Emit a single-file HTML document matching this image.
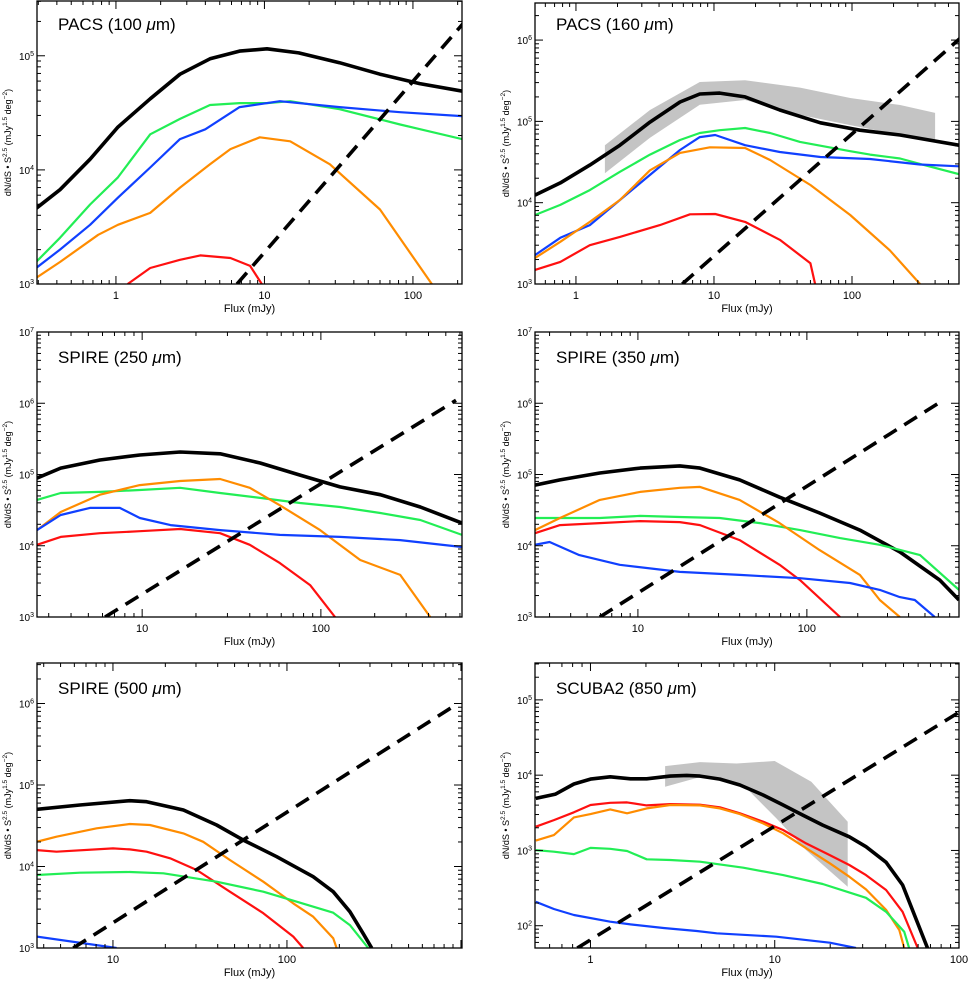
<!DOCTYPE html>
<html><head><meta charset="utf-8"><style>
html,body{margin:0;padding:0;background:#fff;}
svg{display:block;font-family:"Liberation Sans",sans-serif;}
</style></head><body>
<svg id="fig" width="970" height="982" viewBox="0 0 970 982" xmlns="http://www.w3.org/2000/svg"></svg>
<script>
// ---- Panel 1: PACS 100
const p1_black_x=[0.29,0.42,0.67,1.03,1.7,2.7,4.3,6.8,10.4,17,32,60,111,214];
const p1_black_y=[4.6e3,6.7e3,1.24e4,2.37e4,4.2e4,6.9e4,9.4e4,1.1e5,1.15e5,1.06e5,8.7e4,6.9e4,5.7e4,4.9e4];
const p1_green_x=[0.29,0.42,0.67,1.03,1.7,2.7,4.3,6.8,10.4,14.9,32,82,214];
const p1_green_y=[1.56e3,2.54e3,4.97e3,8.6e3,2.05e4,2.8e4,3.7e4,3.85e4,3.85e4,4.0e4,3.4e4,2.5e4,1.86e4];
const p1_blue_x=[0.29,0.42,0.67,1.03,1.7,2.7,4.0,6.8,12.7,32,82,214];
const p1_blue_y=[1.38e3,2.0e3,3.3e3,5.7e3,1.05e4,1.86e4,2.27e4,3.55e4,4.0e4,3.55e4,3.2e4,2.96e4];
const p1_orange_x=[0.29,0.42,0.76,1.03,1.7,2.7,4.3,5.9,9.3,14.9,27.6,60,134];
const p1_orange_y=[1.13e3,1.56e3,2.7e3,3.3e3,4.2e3,7.0e3,1.12e4,1.52e4,1.93e4,1.78e4,1.12e4,4.5e3,1.0e3];
const p1_red_x=[1.2,1.7,2.7,3.7,5.9,8,9.6];
const p1_red_y=[1.0e3,1.38e3,1.63e3,1.78e3,1.69e3,1.44e3,1.0e3];
const p1_dash_x=[6.53,300];
const p1_dash_y=[1.0e3,3.1e5];
// ---- Panel 2: PACS 160
const p2_band_x=[1.62,3.44,7.9,16.8,42,97,223,400];
const p2_band_hi=[5.1e4,1.38e5,3.05e5,3.2e5,2.6e5,1.94e5,1.59e5,1.27e5];
const p2_band_lo=[2.3e4,6.3e4,1.6e5,1.83e5,1.2e5,9.0e4,6.8e4,5.9e4];
const p2_black_x=[0.505,0.77,1.26,2.08,3.44,5.67,7.9,11,16.8,30,59,114,223,596];
const p2_black_y=[1.24e4,1.75e4,2.9e4,5.1e4,9.8e4,1.73e5,2.17e5,2.23e5,2.0e5,1.38e5,9.6e4,7.8e4,6.8e4,5.1e4];
const p2_green_x=[0.505,0.77,1.26,2.08,3.44,5.67,7.9,11,16.8,25.5,42,97,135,223,311,596];
const p2_green_y=[7.06e3,9.4e3,1.43e4,2.4e4,3.9e4,5.9e4,7.2e4,7.8e4,8.3e4,7.2e4,5.6e4,4.3e4,3.9e4,3.5e4,3.0e4,2.24e4];
const p2_blue_x=[0.505,0.77,1.26,2.08,3.44,5.67,7.9,10.2,16.8,30,59,135,311,596];
const p2_blue_y=[2.27e3,3.7e3,5.3e3,1.08e4,2.2e4,4.45e4,6.4e4,6.8e4,5.1e4,4.2e4,3.65e4,3.45e4,2.95e4,2.8e4];
const p2_orange_x=[0.505,0.77,1.26,2.08,3.44,5.67,9.35,16.8,25.5,50,97,188,311];
const p2_orange_y=[2.09e3,3.3e3,5.8e3,1.08e4,2.5e4,4.1e4,4.8e4,4.7e4,3.35e4,1.65e4,7.06e3,2.6e3,1.0e3];
const p2_red_x=[0.505,0.77,1.26,2.08,4.06,6.7,10.2,16.8,30,50,54];
const p2_red_y=[1.49e3,1.87e3,3.0e3,3.8e3,5.3e3,7.2e3,7.26e3,5.8e3,3.5e3,1.8e3,1.0e3];
const p2_dash_x=[5.9,700];
const p2_dash_y=[1.0e3,1.3e6];
// ---- Panel 3: SPIRE 250
const p3_black_x=[2.58,3.5,5.8,9.7,16.3,27.3,45.7,76.5,128,215,360,616];
const p3_black_y=[8.9e4,1.23e5,1.6e5,1.88e5,2.07e5,1.95e5,1.45e5,9.8e4,6.7e4,5.2e4,3.5e4,2.08e4];
const p3_green_x=[2.58,3.5,5.8,9.7,16.3,27.3,45.7,76.5,128,215,360,616];
const p3_green_y=[4.4e4,5.5e4,5.7e4,6.05e4,6.5e4,5.5e4,4.7e4,3.98e4,3.5e4,2.88e4,2.3e4,1.42e4];
const p3_orange_x=[2.58,3.5,5.8,9.7,16.3,27.3,40,59,99,166,278,409];
const p3_orange_y=[1.66e4,2.98e4,5.2e4,7.1e4,8.1e4,8.65e4,6.5e4,3.7e4,1.66e4,6.3e3,3.9e3,1.0e3];
const p3_blue_x=[2.58,3.5,5.1,7.5,9.7,14.4,27.3,59,128,278,616];
const p3_blue_y=[1.66e4,2.7e4,3.4e4,3.4e4,2.45e4,1.95e4,1.66e4,1.42e4,1.33e4,1.2e4,9.6e3];
const p3_red_x=[2.58,3.5,5.8,9.7,16.3,27.3,40,59,87,120];
const p3_red_y=[1.03e4,1.33e4,1.5e4,1.6e4,1.72e4,1.5e4,1.03e4,5.7e3,2.8e3,1.0e3];
const p3_dash_x=[6.2,570];
const p3_dash_y=[1.0e3,1.1e6];
// ---- Panel 4: SPIRE 350
const p4_black_x=[2.46,3.46,5.95,10.3,17.7,23.3,40,69,119,206,355,612,795];
const p4_black_y=[7.1e4,8.4e4,1.05e5,1.23e5,1.32e5,1.23e5,8.4e4,4.8e4,2.88e4,1.66e4,8.2e3,3.3e3,1.73e3];
const p4_green_x=[2.46,3.46,5.95,10.3,17.7,30.5,52.7,91,157,270,467,795];
const p4_green_y=[2.45e4,2.45e4,2.45e4,2.62e4,2.53e4,2.45e4,2.08e4,1.66e4,1.28e4,1.03e4,7.4e3,2.4e3];
const p4_orange_x=[2.46,3.46,5.95,10.3,17.7,23.3,40,69,119,206,270,355];
const p4_orange_y=[1.66e4,2.45e4,4.4e4,5.7e4,6.5e4,6.7e4,4.4e4,2.08e4,8.7e3,3.9e3,1.73e3,1.0e3];
const p4_red_x=[2.46,3.46,5.95,10.3,17.7,23.3,40,69,91,157];
const p4_red_y=[1.5e4,1.95e4,2.08e4,2.22e4,2.15e4,1.95e4,1.2e4,5.4e3,3.3e3,1.0e3];
const p4_blue_x=[2.46,3.0,4.5,7.8,17.7,40,91,180,270,355,435,571];
const p4_blue_y=[1.03e4,1.13e4,7.4e3,5.4e3,4.3e3,3.9e3,3.5e3,3.0e3,2.4e3,1.9e3,1.73e3,1.0e3];
const p4_dash_x=[5.95,640];
const p4_dash_y=[1.0e3,1.1e6];
// ---- Panel 5: SPIRE 500
const p5_black_x=[3.64,6.46,12.5,15.6,25.4,39.4,56.1,87.3,141.6,184.5,230,274,307];
const p5_black_y=[5.04e4,5.69e4,6.42e4,6.24e4,4.93e4,3.23e4,2.11e4,1.32e4,7.5e3,4.91e3,2.79e3,1.51e3,1.0e3];
const p5_orange_x=[3.64,4.74,8.06,12.5,16.3,25.4,33,47,73.1,108.7,141.6,184.5,193];
const p5_orange_y=[2.01e4,2.32e4,2.94e4,3.32e4,3.23e4,2.55e4,2.01e4,1.2e4,6.5e3,3.53e3,2.42e3,1.32e3,1.0e3];
const p5_red_x=[3.64,4.74,10.0,12.5,15.6,21.3,30.3,47,73.1,108.7,124];
const p5_red_y=[1.59e4,1.52e4,1.67e4,1.62e4,1.52e4,1.26e4,9.06e3,4.91e3,2.67e3,1.38e3,1.0e3];
const p5_green_x=[3.64,6.46,12.5,19.5,39.4,73.1,113.7,184.5,230,293];
const p5_green_y=[7.87e3,8.39e3,8.57e3,8.26e3,6.5e3,4.91e3,3.7e3,2.71e3,1.91e3,1.0e3];
const p5_blue_x=[3.64,10.5];
const p5_blue_y=[1.38e3,1.0e3];
const p5_dash_x=[5.92,925];
const p5_dash_y=[1.0e3,9.5e5];
// ---- Panel 6: SCUBA2 850
const p6_band_x=[2.54,3.93,6.21,10,15.8,24.9];
const p6_band_hi=[1.32e4,1.49e4,1.43e4,1.54e4,8.17e3,2.41e3];
const p6_band_lo_x=[2.54,4.1,7.03,10.2,14.8,24.9];
const p6_band_lo=[7.02e3,9.72e3,6.69e3,2.67e3,1.01e3,330];
const p6_black_x=[0.505,0.647,0.813,1,1.28,1.65,2.02,2.71,3.33,3.93,5.04,6.47,8.65,11.1,14.2,18.2,25.4,31.3,40.2,49.4,67.5];
const p6_black_y=[4.92e3,5.61e3,7.62e3,8.87e3,9.52e3,8.96e3,8.96e3,9.72e3,9.93e3,9.72e3,8.87e3,7.4e3,5.45e3,4.01e3,2.95e3,2.17e3,1.52e3,1.12e3,695,347,50.6];
const p6_red_x=[0.505,0.633,0.813,1,1.28,1.58,2.02,2.71,3.93,5.04,6.47,8.65,11.1,14.8,19.9,25.4,31.3,40.2,49.4,59.7];
const p6_red_y=[2.07e3,2.53e3,3.21e3,4.01e3,4.3e3,4.35e3,3.97e3,4.13e3,4.05e3,3.74e3,3.11e3,2.41e3,1.87e3,1.24e3,868,640,471,298,153,50.6];
const p6_orange_x=[0.505,0.633,0.813,1,1.28,1.58,2.02,2.71,3.93,5.04,6.47,8.65,11.1,14.8,19.9,25.4,31.3,40.2,47.4,50.4];
const p6_orange_y=[1.35e3,1.6e3,2.75e3,3.04e3,3.51e3,3.11e3,3.62e3,4.01e3,3.97e3,3.62e3,3.04e3,2.29e3,1.69e3,1.07e3,675,448,304,162,87.7,50.6];
const p6_green_x=[0.505,0.633,0.813,1,1.28,1.58,2.02,2.71,3.93,6.75,11.1,18.2,31.3,40.2,50.4,53.6];
const p6_green_y=[1.01e3,961,895,1.08e3,1.05e3,982,762,746,708,590,471,358,235,153,83.2,50.6];
const p6_blue_x=[0.505,0.633,0.813,1.28,1.65,2.49,3.77,4.84,10.2,19.9,27.6];
const p6_blue_y=[208,167,139,113,104,93.2,85,79.2,71.4,59.4,50.6];
const p6_dash_x=[0.848,100];
const p6_dash_y=[50.6,6.84e4];

const NS='http://www.w3.org/2000/svg';
const svg=document.getElementById('fig');
const C={black:'#000',green:'#22ee55',blue:'#1040ff',orange:'#ff8c00',red:'#ff1010',grey:'#c4c4c4'};
function mk(tag,attrs,parent){const e=document.createElementNS(NS,tag);for(const k in attrs)e.setAttribute(k,attrs[k]);(parent||svg).appendChild(e);return e;}
const L=Math.log10;

const panels=[
 {id:'pacs-100',title:'PACS (100 ',x0:37,x1:462,y0:1,y1:284,xr:[0.294,214],yr:[1e3,Math.pow(10,5.48)],xt:[1,10,100],yd:[3,4,5],tx:58,ty:30,
  series:[['black',p1_black_x,p1_black_y],['green',p1_green_x,p1_green_y],['blue',p1_blue_x,p1_blue_y],['orange',p1_orange_x,p1_orange_y],['red',p1_red_x,p1_red_y],['dash',p1_dash_x,p1_dash_y]]},
 {id:'pacs-160',title:'PACS (160 ',x0:535,x1:959,y0:3,y1:284,xr:[0.505,596],yr:[1e3,Math.pow(10,6.456)],xt:[1,10,100],yd:[3,4,5,6],tx:556,ty:30,
  band:[p2_band_x,p2_band_hi,p2_band_x,p2_band_lo],
  series:[['band'],['black',p2_black_x,p2_black_y],['green',p2_green_x,p2_green_y],['blue',p2_blue_x,p2_blue_y],['orange',p2_orange_x,p2_orange_y],['red',p2_red_x,p2_red_y],['dash',p2_dash_x,p2_dash_y]]},
 {id:'spire-250',title:'SPIRE (250 ',x0:37,x1:462,y0:332,y1:617,xr:[2.58,616],yr:[1e3,1e7],xt:[10,100],yd:[3,4,5,6,7],tx:58,ty:363,
  series:[['black',p3_black_x,p3_black_y],['green',p3_green_x,p3_green_y],['orange',p3_orange_x,p3_orange_y],['blue',p3_blue_x,p3_blue_y],['red',p3_red_x,p3_red_y],['dash',p3_dash_x,p3_dash_y]]},
 {id:'spire-350',title:'SPIRE (350 ',x0:535,x1:959,y0:332,y1:617,xr:[2.46,795],yr:[1e3,1e7],xt:[10,100],yd:[3,4,5,6,7],tx:556,ty:363,
  series:[['black',p4_black_x,p4_black_y],['green',p4_green_x,p4_green_y],['orange',p4_orange_x,p4_orange_y],['red',p4_red_x,p4_red_y],['blue',p4_blue_x,p4_blue_y],['dash',p4_dash_x,p4_dash_y]]},
 {id:'spire-500',title:'SPIRE (500 ',x0:37,x1:462,y0:663,y1:948,xr:[3.66,1014],yr:[1e3,Math.pow(10,6.497)],xt:[10,100],yd:[3,4,5,6],tx:58,ty:694,
  series:[['black',p5_black_x,p5_black_y],['orange',p5_orange_x,p5_orange_y],['red',p5_red_x,p5_red_y],['green',p5_green_x,p5_green_y],['blue',p5_blue_x,p5_blue_y],['dash',p5_dash_x,p5_dash_y]]},
 {id:'scuba2-850',title:'SCUBA2 (850 ',x0:535,x1:959,y0:663,y1:948,xr:[0.5,100],yr:[Math.pow(10,1.704),Math.pow(10,5.49)],xt:[1,10,100],yd:[2,3,4,5],tx:556,ty:694,
  band:[p6_band_x,p6_band_hi,p6_band_lo_x,p6_band_lo],
  series:[['band'],['black',p6_black_x,p6_black_y],['red',p6_red_x,p6_red_y],['orange',p6_orange_x,p6_orange_y],['green',p6_green_x,p6_green_y],['blue',p6_blue_x,p6_blue_y],['dash',p6_dash_x,p6_dash_y]]}
];

panels.forEach((p,i)=>{
  const g=mk('g',{});
  
  
  const sx=v=>p.x0+(L(v)-L(p.xr[0]))/(L(p.xr[1])-L(p.xr[0]))*(p.x1-p.x0);
  const sy=v=>p.y1-(L(v)-L(p.yr[0]))/(L(p.yr[1])-L(p.yr[0]))*(p.y1-p.y0);
  const cid='clip'+i;
  const cp=mk('clipPath',{id:cid},g);
  mk('rect',{x:p.x0,y:p.y0,width:p.x1-p.x0,height:p.y1-p.y0},cp);
  const plot=mk('g',{'clip-path':'url(#'+cid+')'},g);
  p.series.forEach(s=>{
    if(s[0]==='band'){
      if(!p.band)return;
      const [bx,bh,blx,bl]=p.band;
      let pts=bx.map((x,k)=>sx(x).toFixed(1)+','+sy(bh[k]).toFixed(1));
      for(let k=blx.length-1;k>=0;k--)pts.push(sx(blx[k]).toFixed(1)+','+sy(bl[k]).toFixed(1));
      const poly=mk('polygon',{points:pts.join(' '),fill:C.grey,stroke:'none'},plot);
      
      
      return;
    }
    const [name,xs,ys]=s;
    const pts=xs.map((x,k)=>sx(x).toFixed(1)+','+sy(ys[k]).toFixed(1)).join(' ');
    let attrs={points:pts,fill:'none','stroke-linejoin':'round'};
    if(name==='dash'){attrs.stroke='#000';attrs['stroke-width']=3.6;attrs['stroke-dasharray']='15 9';}
    else if(name==='black'){attrs.stroke='#000';attrs['stroke-width']=3.6;}
    else {attrs.stroke=C[name];attrs['stroke-width']=2.2;}
    const pl=mk('polyline',attrs,plot);
    
    
  });
  const fr=mk('rect',{x:p.x0,y:p.y0,width:p.x1-p.x0,height:p.y1-p.y0,fill:'none',stroke:'#000','stroke-width':1.3},g);
  
  
  const ax=mk('g',{stroke:'#000','stroke-width':1},g);
  for(let d=-2;d<=3;d++)for(let m=1;m<10;m++){
    const v=m*Math.pow(10,d);
    if(v<p.xr[0]*0.999||v>p.xr[1]*1.001)continue;
    const X=sx(v),len=m===1?8:4;
    mk('line',{x1:X,y1:p.y1,x2:X,y2:p.y1-len},ax);
    mk('line',{x1:X,y1:p.y0,x2:X,y2:p.y0+len},ax);
  }
  p.xt.forEach(v=>{
    const t=mk('text',{x:sx(v),y:p.y1+15,'font-size':11,'text-anchor':'middle'},g);
    t.textContent=String(v);
    
    
  });
  const xtl=mk('text',{x:(p.x0+p.x1)/2,y:p.y1+28,'font-size':11,'text-anchor':'middle'},g);
  xtl.textContent='Flux (mJy)';
  
  
  for(let d=1;d<=7;d++)for(let m=1;m<10;m++){
    const v=m*Math.pow(10,d);
    if(v<p.yr[0]*0.999||v>p.yr[1]*1.001)continue;
    const Y=sy(v),len=m===1?8:4;
    mk('line',{x1:p.x0,y1:Y,x2:p.x0+len,y2:Y},ax);
    mk('line',{x1:p.x1,y1:Y,x2:p.x1-len,y2:Y},ax);
  }
  p.yd.forEach(d=>{
    const t=mk('text',{x:p.x0-3,y:sy(Math.pow(10,d))+4,'font-size':10,'text-anchor':'end'},g);
    
    
    const a=mk('tspan',{},t);a.textContent='10';
    const b=mk('tspan',{'font-size':7,dy:-4},t);b.textContent=String(d);
  });
  const cy=(p.y0+p.y1)/2, cx=p.x0-26;
  const yt=mk('text',{x:cx,y:cy,'font-size':9,'text-anchor':'middle',transform:'rotate(-90 '+cx+' '+cy+')'},g);
  
  
  const parts=[['dN/dS \u2022 S',0],['2.5',-4],[' (mJy',4],['1.5',-4],[' deg',4],['\u22122',-4],[')',4]];
  parts.forEach(([txt,dy])=>{const ts=mk('tspan',{dy:dy},yt);if(dy<0)ts.setAttribute('font-size',6.5);ts.textContent=txt;});
  const tt=mk('text',{x:p.tx,y:p.ty,'font-size':17},g);
  
  
  const t1=mk('tspan',{},tt);t1.textContent=p.title;
  const t2=mk('tspan',{'font-style':'italic'},tt);t2.textContent='\u03bc';
  const t3=mk('tspan',{},tt);t3.textContent='m)';
});
</script>
</body></html>
